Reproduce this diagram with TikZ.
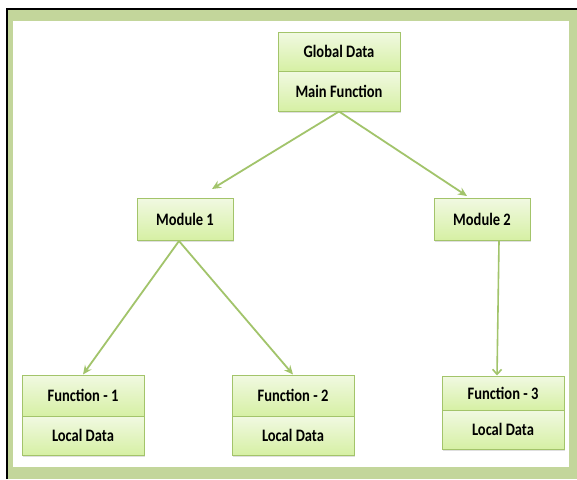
\documentclass[tikz,border=0pt]{standalone}
\usepackage{fontspec}
\setmainfont{Carlito}
\usetikzlibrary{arrows.meta,shadows}
\definecolor{frame}{HTML}{C3D69B}
\definecolor{boxline}{HTML}{A3C46A}
\definecolor{boxtop}{HTML}{F1F9E2}
\definecolor{boxbot}{HTML}{D6F0A4}
\definecolor{arr}{HTML}{A2C46B}
\newcommand{\cond}[1]{\scalebox{0.83}[1]{#1}}
\tikzset{
  cell/.style={draw=boxline, line width=1pt, top color=boxtop, bottom color=boxbot,
    minimum width=122pt, font=\bfseries\fontsize{17.5}{19}\selectfont, inner sep=0pt,
    drop shadow={shadow xshift=1pt, shadow yshift=-2pt, opacity=0.25}},
  conn/.style={draw=arr, line width=1.8pt, -{Stealth[length=9pt,width=8pt]}},
  connv/.style={draw=arr, line width=1.6pt, -{Straight Barb[length=5pt,width=9pt]}}
}
\begin{document}
\begin{tikzpicture}[x=1pt,y=-1pt]
\useasboundingbox (0,0) rectangle (577,479);
\fill[frame] (6,8) rectangle (577,479);
\fill[white] (13,21) rectangle (569,467);
\draw[black, line width=1.6pt] (6.8,479) -- (6.8,8.8) -- (577,8.8);
% top box
\node[cell, minimum height=39pt] (gd) at (339,51.5) {\cond{Global Data}};
\node[cell, minimum height=40pt] (mf) at (339,91) {\cond{Main Function}};
% modules
\node[cell, minimum width=96pt, minimum height=42pt] (m1) at (185,219) {\cond{Module 1}};
\node[cell, minimum width=96pt, minimum height=42pt] (m2) at (482,219) {\cond{Module 2}};
% functions
\node[cell, minimum height=41pt] (f1) at (83,395.5) {\cond{Function - 1}};
\node[cell, minimum height=39pt] (l1) at (83,435.5) {\cond{Local Data}};
\node[cell, minimum height=41pt] (f2) at (293,395.5) {\cond{Function - 2}};
\node[cell, minimum height=39pt] (l2) at (293,435.5) {\cond{Local Data}};
\node[cell, minimum height=34pt] (f3) at (503,393) {\cond{Function - 3}};
\node[cell, minimum height=39pt] (l3) at (503,429.5) {\cond{Local Data}};
% arrow ends
\coordinate (t1) at (212,189);
\coordinate (t2) at (467,196);
\coordinate (s1) at (179,241);
\coordinate (s2) at (499,241);
\draw[conn] (mf.south) -- (t1);
\draw[conn] (mf.south) -- (t2);
\draw[conn] (s1) -- (f1.north);
\draw[conn] (s1) -- (f2.north);
\draw[connv] (s2) -- ([xshift=-6pt]f3.north);
\end{tikzpicture}
\end{document}
